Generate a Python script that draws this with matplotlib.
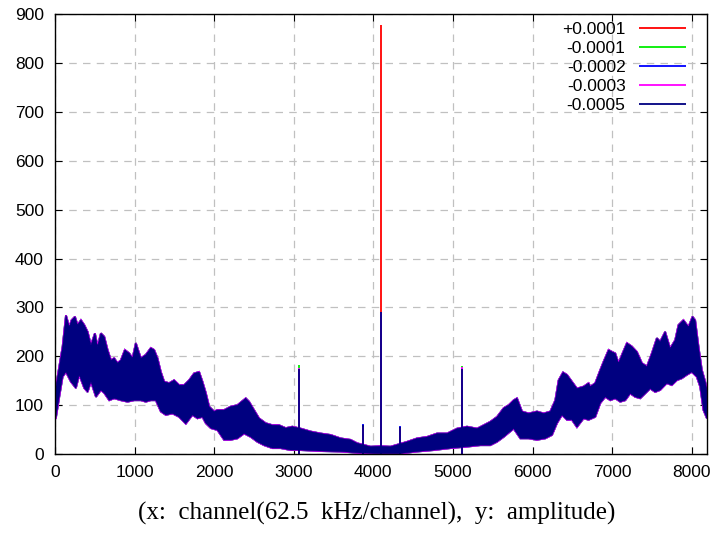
import numpy as np
import matplotlib.pyplot as plt

# upper edge of the noise band (channel, amplitude)
top_ch = [0, 12, 54, 96, 138, 180, 209, 251, 284, 326, 368, 410, 452, 502, 535,
          577, 619, 661, 703, 744, 786, 828, 878, 933, 974, 1016, 1079, 1141,
          1204, 1246, 1288, 1330, 1372, 1434, 1497, 1560, 1623, 1685, 1748, 1811,
          1853, 1895, 1937, 1999, 2041, 2125, 2208, 2292, 2397, 2439, 2501, 2564,
          2648, 2732, 2815, 2899, 2982, 3087, 3212, 3337, 3463, 3588, 3714, 3797,
          3965, 4090, 4216, 4425, 4550, 4676, 4801, 4927, 5052, 5177, 5303, 5387,
          5470, 5554, 5638, 5700, 5763, 5805, 5868, 5951, 6056, 6140, 6224, 6286,
          6328, 6383, 6433, 6495, 6558, 6642, 6704, 6726, 6788, 6851, 6893, 6956,
          6998, 7039, 7081, 7131, 7186, 7248, 7311, 7374, 7437, 7499, 7562, 7604,
          7666, 7729, 7792, 7834, 7896, 7959, 8010, 8043, 8085, 8127, 8169, 8191]
band_hi = [140, 138, 179, 220, 284, 260, 274, 281, 264, 274, 264, 250, 223, 247, 220,
           247, 240, 213, 192, 196, 186, 192, 213, 206, 196, 227, 196, 203,
           217, 213, 196, 168, 148, 145, 151, 141, 141, 151, 165, 168,
           148, 125, 97, 87, 90, 90, 97, 100, 114, 107, 90, 73,
           63, 59, 59, 53, 56, 52, 46, 42, 39, 32, 29, 22,
           15, 16, 15, 25, 32, 35, 42, 42, 52, 56, 52, 59,
           66, 76, 94, 100, 110, 114, 87, 83, 87, 83, 87, 110,
           151, 167, 162, 148, 134, 138, 145, 138, 145, 172, 189, 213,
           209, 206, 186, 206, 227, 220, 209, 186, 179, 206, 237, 230,
           250, 216, 233, 264, 274, 260, 281, 274, 220, 172, 148, 131]

# lower edge of the noise band
bot_ch = [0, 12, 54, 96, 138, 200, 263, 305, 368, 410, 452, 515, 577, 619, 682,
          744, 828, 912, 995, 1079, 1141, 1204, 1267, 1330, 1393, 1476, 1560,
          1644, 1727, 1790, 1853, 1895, 1958, 2041, 2125, 2208, 2292, 2376, 2460,
          2543, 2627, 2732, 2836, 2962, 3087, 3337, 3588, 3839, 4090, 4340, 4550,
          4760, 4969, 5177, 5345, 5470, 5554, 5638, 5763, 5847, 5951, 6056, 6161,
          6245, 6307, 6370, 6433, 6495, 6558, 6642, 6704, 6788, 6851, 6914, 6977,
          7039, 7102, 7165, 7227, 7290, 7353, 7416, 7478, 7541, 7604, 7687, 7750,
          7813, 7876, 7938, 8001, 8064, 8106, 8148, 8191]
band_lo = [75, 74, 117, 158, 168, 148, 135, 162, 135, 127, 148, 117, 131, 125, 110,
           114, 110, 107, 110, 110, 107, 110, 110, 87, 80, 83, 76,
           62, 80, 73, 76, 63, 53, 49, 29, 29, 32, 42, 35,
           25, 18, 12, 12, 8, 8, 6, 5, 2, 1, 1, 5,
           8, 12, 15, 18, 18, 25, 35, 52, 32, 32, 29, 32,
           39, 63, 80, 70, 70, 55, 73, 70, 76, 104, 117, 110,
           114, 107, 110, 124, 117, 114, 124, 134, 127, 131, 145, 141,
           151, 155, 162, 168, 158, 138, 90, 73]

# narrow lines standing out of the band
spike_ch = [0, 3072, 3870, 4096, 4330, 5120]
spikes = {
    "+0.0001": [560, 170, 55, 878, 52, 172],
    "-0.0001": [560, 182, 57, 290, 54, 181],
    "-0.0002": [575, 175, 61, 290, 58, 176],
    "-0.0003": [565, 177, 56, 290, 53, 178],
    "-0.0005": [575, 175, 59, 290, 56, 175],
}
colors = ["#ff0000", "#00ee00", "#0000ff", "#ff00ff", "#000080"]
edge_lw = [1.0, 1.3, 1.3, 1.3, 0.5]

plt.rcParams['font.family'] = ['Liberation Sans', 'DejaVu Sans']

fig = plt.figure(figsize=(7.14, 5.35), dpi=100)
ax = fig.add_axes([0.077, 0.1514, 0.9132, 0.8219])

band_x = np.r_[top_ch, bot_ch[::-1]]
band_y = np.r_[band_hi, band_lo[::-1]]
for i, ((label, heights), c, lw) in enumerate(zip(spikes.items(), colors, edge_lw)):
    z = 2 + i * 0.1
    ax.fill(band_x, band_y, facecolor=c, edgecolor=c, linewidth=lw, zorder=z)
    ax.vlines(spike_ch, 0, heights, colors=c, lw=1.3, label=label, zorder=z)

ax.set_xlim(0, 8192)
ax.set_ylim(0, 900)
ax.set_xticks(np.arange(0, 8001, 1000))
ax.set_yticks(np.arange(0, 901, 100))
ax.tick_params(direction='in', length=5, top=True, right=True,
               labelsize=12.5, pad=8, width=0.8)
ax.grid(True, color='#c0c0c0', linestyle=(0, (6, 5)), linewidth=0.9)
ax.set_axisbelow(True)
for s in ax.spines.values():
    s.set_linewidth(1.0)
    s.set_zorder(5)

ax.legend(loc='upper right', bbox_to_anchor=(0.979, 0.998), frameon=False,
          markerfirst=False, fontsize=12.5, handlelength=2.7,
          handletextpad=0.8, labelspacing=0.22, borderaxespad=0)

fig.text(0.528, 0.041, "(x:  channel(62.5  kHz/channel),  y:  amplitude)",
         family='Liberation Serif', fontsize=18, ha='center', va='center')

fig.savefig("out.png", dpi=100)
